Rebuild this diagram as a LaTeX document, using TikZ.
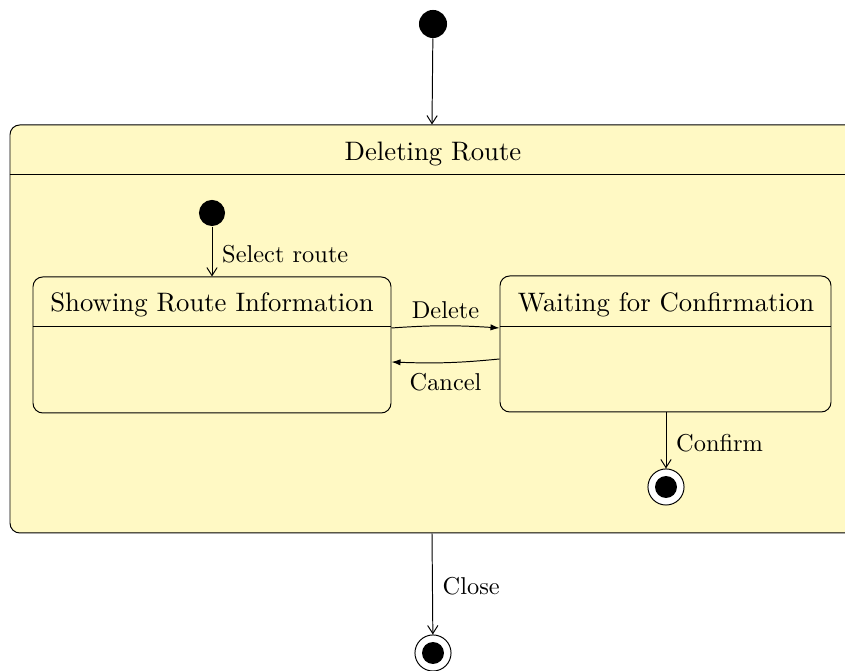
\documentclass[tikz,border=0pt]{standalone}
\usetikzlibrary{arrows.meta,fit,bending}
\definecolor{stfill}{HTML}{FFF9C4}
\tikzset{
  statebox/.style={draw, fill=stfill, rounded corners=4pt, inner sep=0pt},
  titletext/.style={font=\fontsize{10.95}{13}\selectfont, inner sep=0pt},
  lbl/.style={font=\fontsize{10}{12}\selectfont, inner sep=0pt},
  initdot/.style={circle, fill=black, inner sep=0pt},
  finalring/.style={circle, draw, fill=white, inner sep=0pt, minimum size=14.8pt},
  finaldot/.style={circle, fill=black, inner sep=0pt, minimum size=9pt},
  trans/.style={-{Straight Barb[length=3.3pt,width=4.2pt]}},
  ltrans/.style={-{Latex[length=3.7pt,width=2.6pt]}}
}
\begin{document}
\begin{tikzpicture}[x=0.41pt,y=0.41pt]
\useasboundingbox (0,0) rectangle (845,671);
% outer composite state
\node[statebox, fit={(10,138) (856,546)}] (outer) {};
\draw (outer.west |- 0,496) -- (outer.east |- 0,496);
\node[titletext] (outertitle) at (433,517) {Deleting Route};
% top initial
\node[initdot, minimum size=11.5pt] (init1) at (433,647) {};
\draw[trans] (init1) -- (outer.north -| 432,0);
% inner states
\node[statebox, fit={(33,258) (391,394)}] (show) {};
\draw (show.west |- 0,344) -- (show.east |- 0,344);
\node[titletext] (showtitle) at (212,366) {Showing Route Information};
\node[statebox, fit={(500,259) (831,395)}] (wait) {};
\draw (wait.west |- 0,344) -- (wait.east |- 0,344);
\node[titletext] (waittitle) at (666,366) {Waiting for Confirmation};
% inner initial
\node[initdot, minimum size=10.7pt] (init2) at (212,458) {};
\draw[trans] (init2) -- (show.north -| init2) node[lbl, midway, right=4pt, yshift=-1pt] {Select route};
% delete / cancel
\coordinate (dA) at (show.east |- 0,343);
\coordinate (dB) at (wait.west |- 0,343);
\draw[ltrans] (dA) to[bend left=4] node[lbl, above=2.5pt] {Delete} (dB);
\coordinate (cA) at (wait.west |- 0,312);
\coordinate (cB) at (show.east |- 0,309);
\draw[ltrans] (cA) to[bend left=4] node[lbl, below=4pt] {Cancel} (cB);
% inner final
\node[finalring] (fin1) at (666,184) {};
\node[finaldot] (fin1d) at (fin1) {};
\draw[trans] (wait.south -| fin1) -- (fin1) node[lbl, pos=0.5, right=4pt, yshift=-1pt] {Confirm};
% outer final
\node[finalring] (fin2) at (433,18) {};
\node[finaldot] (fin2d) at (fin2) {};
\draw[trans] (outer.south -| 432,0) -- (fin2) node[lbl, midway, right=4pt, yshift=-1pt] {Close};
\end{tikzpicture}
\end{document}
